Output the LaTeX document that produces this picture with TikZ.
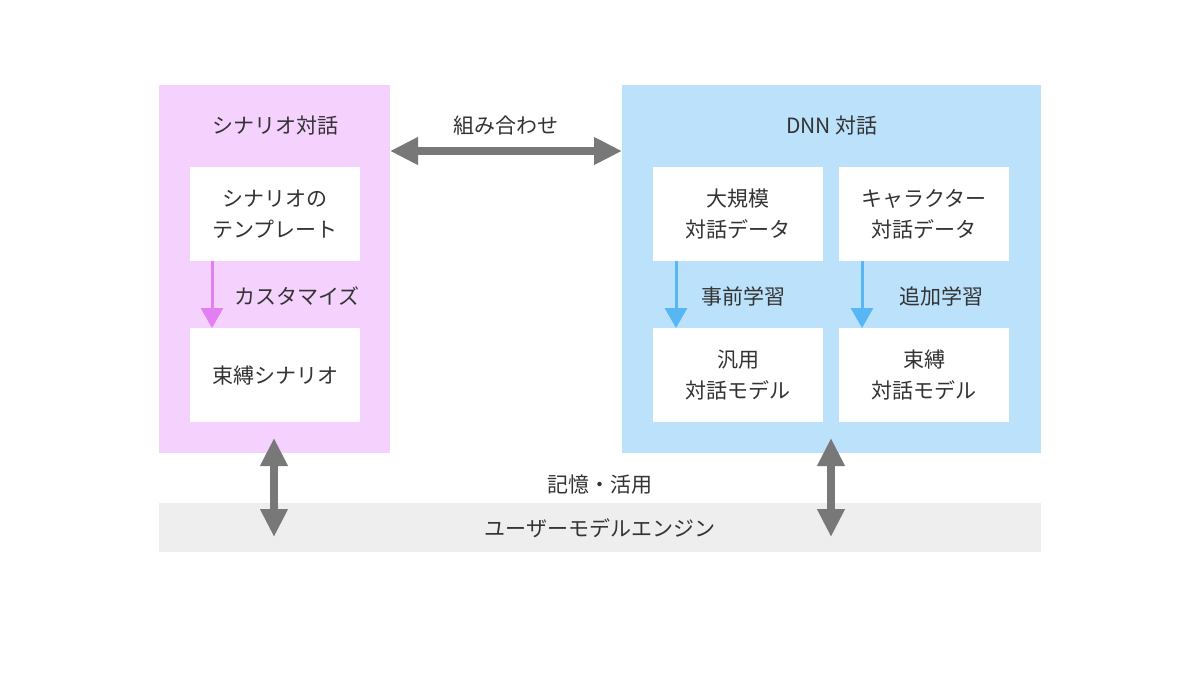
\documentclass[tikz,border=0pt]{standalone}
\usepackage{fontspec}
\setmainfont{Noto Sans CJK JP}
\usetikzlibrary{arrows.meta}
\definecolor{pinkbg}{RGB}{245,210,253}
\definecolor{bluebg}{RGB}{187,225,251}
\definecolor{graybg}{RGB}{238,238,238}
\definecolor{txt}{RGB}{51,51,51}
\definecolor{arrgray}{RGB}{120,120,120}
\definecolor{pinkarr}{RGB}{226,128,243}
\definecolor{bluearr}{RGB}{88,182,245}
\begin{document}
\begin{tikzpicture}[x=1pt,y=-1pt,
  every node/.style={text=txt,font=\fontsize{21}{31}\selectfont},
  panel/.style={fill=#1,draw=none,inner sep=0pt,outer sep=0pt},
  wbox/.style={fill=white,draw=none,minimum width=170pt,minimum height=94pt,inner sep=0pt,align=center},
  lbl/.style={inner sep=0pt,anchor=center},
  bigarr/.style={draw=arrgray,line width=8pt,{Triangle[width=26pt,length=28pt]}-{Triangle[width=26pt,length=28pt]}},
  smallarr/.style={draw=#1,line width=3pt,-{Triangle[width=22pt,length=20pt]}}
]
\useasboundingbox (0,0) rectangle (1200,675);
\fill[white] (0,0) rectangle (1200,675);
% panels
\node[panel=pinkbg,minimum width=231pt,minimum height=368pt,anchor=north west] (pink) at (159,85) {};
\node[panel=bluebg,minimum width=419pt,minimum height=368pt,anchor=north west] (blue) at (622,85) {};
\node[panel=graybg,minimum width=882pt,minimum height=49pt,anchor=north west] (user) at (159,503) {};
% titles
\node[lbl] (ptitle) at (275,126) {シナリオ対話};
\node[lbl] (btitle) at (832,126) {DNN 対話};
\node[lbl] (comb) at (506,126) {組み合わせ};
\node[lbl] (usertxt) at (600,528) {ユーザーモデルエンジン};
\node[lbl] (mem) at (600,485) {記憶・活用};
% white boxes
\node[wbox,anchor=north west] (tmpl) at (190,167) {シナリオの\\テンプレート};
\node[wbox,anchor=north west] (bscen) at (190,328) {束縛シナリオ};
\node[wbox,anchor=north west] (large) at (653,167) {大規模\\対話データ};
\node[wbox,anchor=north west] (chara) at (839,167) {キャラクター\\対話データ};
\node[wbox,anchor=north west] (gen) at (653,328) {汎用\\対話モデル};
\node[wbox,anchor=north west] (bmod) at (839,328) {束縛\\対話モデル};
% labels
\node[lbl] (cust) at (297,296) {カスタマイズ};
\node[lbl] (pre) at (743,296) {事前学習};
\node[lbl] (add) at (941,296) {追加学習};
% arrows
\draw[bigarr] (pink.east |- 0,151) -- (blue.west |- 0,151);
\coordinate (pa1) at (212,261);
\coordinate (pa2) at (212,328);
\draw[smallarr=pinkarr] (pa1) -- (pa2);
\coordinate (ba1) at (676,261);
\coordinate (ba2) at (676,328);
\draw[smallarr=bluearr] (ba1) -- (ba2);
\coordinate (ca1) at (862,261);
\coordinate (ca2) at (862,328);
\draw[smallarr=bluearr] (ca1) -- (ca2);
\coordinate (va1) at (274,438);
\coordinate (va2) at (274,537);
\draw[bigarr] (va1) -- (va2);
\coordinate (vb1) at (831,438);
\coordinate (vb2) at (831,537);
\draw[bigarr] (vb1) -- (vb2);
\end{tikzpicture}
\end{document}
